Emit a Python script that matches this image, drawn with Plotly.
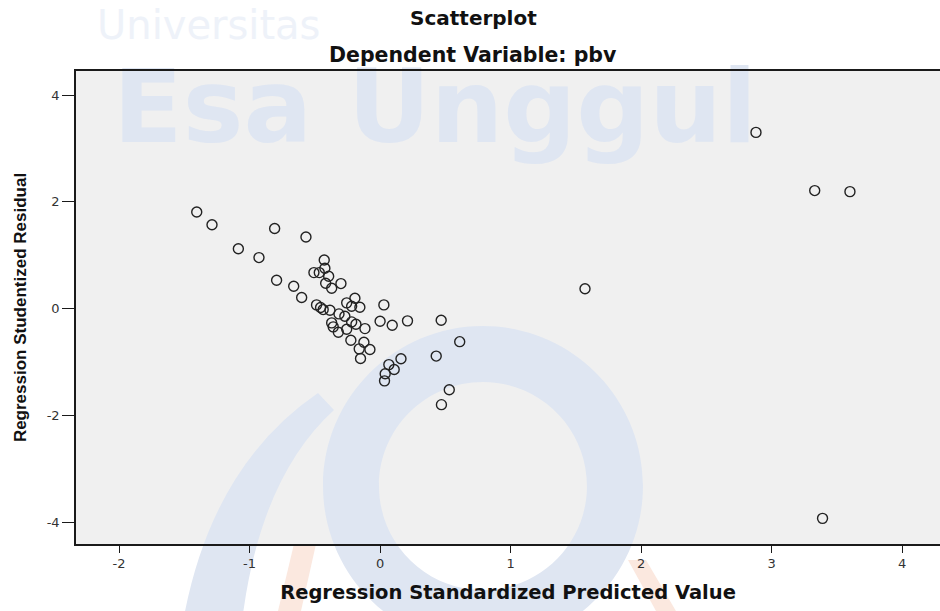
import plotly.graph_objects as go

# Regression Standardized Predicted Value (x) and Studentized Residual (y)
pred = [-1.405, -1.288, -0.808, -0.568, -1.086, -0.928, -0.428, -0.423, -0.507, -0.466,
        -0.394, -0.417, -0.300, -0.371, -0.793, -0.662, -0.601, -0.487, -0.456, -0.436,
        -0.384, -0.256, -0.193, -0.218, -0.155, -0.315, -0.270, -0.218, -0.185, -0.371,
        -0.359, -0.320, -0.256, -0.116, -0.224, -0.124, -0.078, -0.160, -0.150, 0.029,
        0.000, 0.093, 0.210, 0.468, 0.610, 0.430, 0.160, 0.067, 0.108, 0.039,
        0.034, 0.530, 0.470, 1.570, 2.880, 3.330, 3.600, 3.390]
resid = [1.81, 1.57, 1.50, 1.34, 1.12, 0.955, 0.91, 0.755, 0.674, 0.674,
         0.605, 0.474, 0.468, 0.38, 0.53, 0.418, 0.206, 0.069, 0.019, -0.019,
         -0.032, 0.107, 0.193, 0.043, 0.024, -0.10, -0.144, -0.25, -0.293, -0.268,
         -0.343, -0.443, -0.387, -0.375, -0.593, -0.630, -0.768, -0.755, -0.936, 0.069,
         -0.237, -0.312, -0.23, -0.22, -0.62, -0.89, -0.94, -1.05, -1.14, -1.22,
         -1.354, -1.52, -1.80, 0.37, 3.30, 2.21, 2.19, -3.93]

x_ticks = [-2, -1, 0, 1, 2, 3, 4]
y_ticks = [-4, -2, 0, 2, 4]

title_main = "Scatterplot"
title_sub = "Dependent Variable: pbv"
x_title = "Regression Standardized Predicted Value"
y_title = "Regression Studentized Residual"

# plot-area geometry in pixels (used only to place the faint watermark and titles)
L, T, W, H = 76, 71, 864, 473


def dx(px):
    return (px - L) / W


def dy(py):
    return (T + H - py) / H


def pt(px, py):
    return f"{dx(px):.4f},{dy(py):.4f}"


def circle_path(cx, cy, r, reverse=False):
    k = 0.5523 * r
    if not reverse:
        return (f"M {pt(cx + r, cy)} "
                f"C {pt(cx + r, cy - k)} {pt(cx + k, cy - r)} {pt(cx, cy - r)} "
                f"C {pt(cx - k, cy - r)} {pt(cx - r, cy - k)} {pt(cx - r, cy)} "
                f"C {pt(cx - r, cy + k)} {pt(cx - k, cy + r)} {pt(cx, cy + r)} "
                f"C {pt(cx + k, cy + r)} {pt(cx + r, cy + k)} {pt(cx + r, cy)} Z ")
    return (f"M {pt(cx + r, cy)} "
            f"C {pt(cx + r, cy + k)} {pt(cx + k, cy + r)} {pt(cx, cy + r)} "
            f"C {pt(cx - k, cy + r)} {pt(cx - r, cy + k)} {pt(cx - r, cy)} "
            f"C {pt(cx - r, cy - k)} {pt(cx - k, cy - r)} {pt(cx, cy - r)} "
            f"C {pt(cx + k, cy - r)} {pt(cx + r, cy - k)} {pt(cx + r, cy)} Z ")


fig = go.Figure()
fig.add_trace(go.Scatter(
    x=pred, y=resid, mode="markers",
    marker=dict(symbol="circle-open", size=10, color="#222222", line=dict(width=1.4)),
    showlegend=False, hoverinfo="x+y",
))

plot_gray = "#f0f0f0"
wm_blue = "#dfe6f2"
wm_orange = "#fbe8df"
ring = circle_path(483, 486, 160) + circle_path(483, 486, 104, reverse=True)
swoosh = (f"M {pt(180, 640)} Q {pt(205, 470)} {pt(318, 393)} "
          f"L {pt(334, 410)} Q {pt(255, 482)} {pt(240, 640)} Z")
orange1 = f"M {pt(294, 544)} L {pt(316, 544)} L {pt(301, 611)} L {pt(278, 611)} Z"
orange2 = f"M {pt(628, 560)} L {pt(646, 560)} L {pt(676, 611)} L {pt(656, 611)} Z"

shapes = [
    # plot-area background (drawn as a shape so the faint watermark can sit on it)
    dict(type="rect", xref="paper", yref="paper", layer="below",
         x0=0, x1=1, y0=0, y1=1, fillcolor=plot_gray, line=dict(width=0)),
    # faint watermark logo behind the points
    dict(type="path", xref="paper", yref="paper", layer="below",
         path=ring, fillcolor=wm_blue, line=dict(width=0)),
    dict(type="path", xref="paper", yref="paper", layer="below",
         path=swoosh, fillcolor=wm_blue, line=dict(width=0)),
    dict(type="path", xref="paper", yref="paper", layer="below",
         path=orange1, fillcolor=wm_orange, line=dict(width=0)),
    dict(type="path", xref="paper", yref="paper", layer="below",
         path=orange2, fillcolor=wm_orange, line=dict(width=0)),
    # faint "Esa Unggul" watermark text behind the points
    dict(type="rect", xref="paper", yref="paper", layer="below",
         x0=0.0, x1=dx(435) * 2, y0=dy(99) - 0.06, y1=dy(99) + 0.06,
         fillcolor="rgba(0,0,0,0)", line=dict(width=0),
         label=dict(text="Esa Unggul", textposition="middle center",
                    font=dict(family="DejaVu Sans", size=102, color=wm_blue, weight="bold"))),
]

annotations = [
    dict(text="Universitas", xref="paper", yref="paper", x=dx(208), y=dy(25),
         xanchor="center", yanchor="middle", showarrow=False,
         font=dict(family="DejaVu Sans", size=40, color="#eef2f9")),
    dict(text=title_main, xref="paper", yref="paper", x=dx(473), y=dy(18),
         xanchor="center", yanchor="middle", showarrow=False,
         font=dict(family="DejaVu Sans", size=20, color="#111111", weight="bold")),
    dict(text=title_sub, xref="paper", yref="paper", x=dx(473), y=dy(55),
         xanchor="center", yanchor="middle", showarrow=False,
         font=dict(family="DejaVu Sans", size=20.5, color="#111111", weight="bold")),
]

fig.update_layout(
    width=940, height=611,
    margin=dict(l=L, r=940 - L - W, t=T, b=611 - T - H, autoexpand=False),
    paper_bgcolor="white", plot_bgcolor="rgba(0,0,0,0)",
    shapes=shapes, annotations=annotations,
    xaxis=dict(
        range=[-2.33, 4.29], tickvals=x_ticks, ticktext=[str(v) for v in x_ticks],
        showgrid=False, zeroline=False, automargin=False,
        showline=True, linecolor="#1a1a1a", linewidth=1.5, mirror=True,
        ticks="outside", ticklen=7, tickwidth=1.3, tickcolor="#1a1a1a",
        tickfont=dict(family="DejaVu Sans", size=13, color="#333333"),
        title=dict(text=x_title, standoff=15,
                   font=dict(family="DejaVu Sans", size=19.5, color="#111111", weight="bold")),
    ),
    yaxis=dict(
        range=[-4.41, 4.45], tickvals=y_ticks, ticktext=[str(v) for v in y_ticks],
        showgrid=False, zeroline=False, automargin=False,
        showline=True, linecolor="#1a1a1a", linewidth=1.5,
        ticks="outside", ticklen=12, tickwidth=1.3, tickcolor="#1a1a1a",
        tickfont=dict(family="DejaVu Sans", size=13, color="#333333"),
        title=dict(text=y_title, standoff=16,
                   font=dict(family="Liberation Sans", size=17, color="#111111", weight="bold")),
    ),
)

# remove the browser's default page margin so the figure sits at the window's top-left
fig.write_html("out.html",
               config={"displayModeBar": False},
               post_script="document.body.style.margin='0';document.body.style.overflow='hidden';")
